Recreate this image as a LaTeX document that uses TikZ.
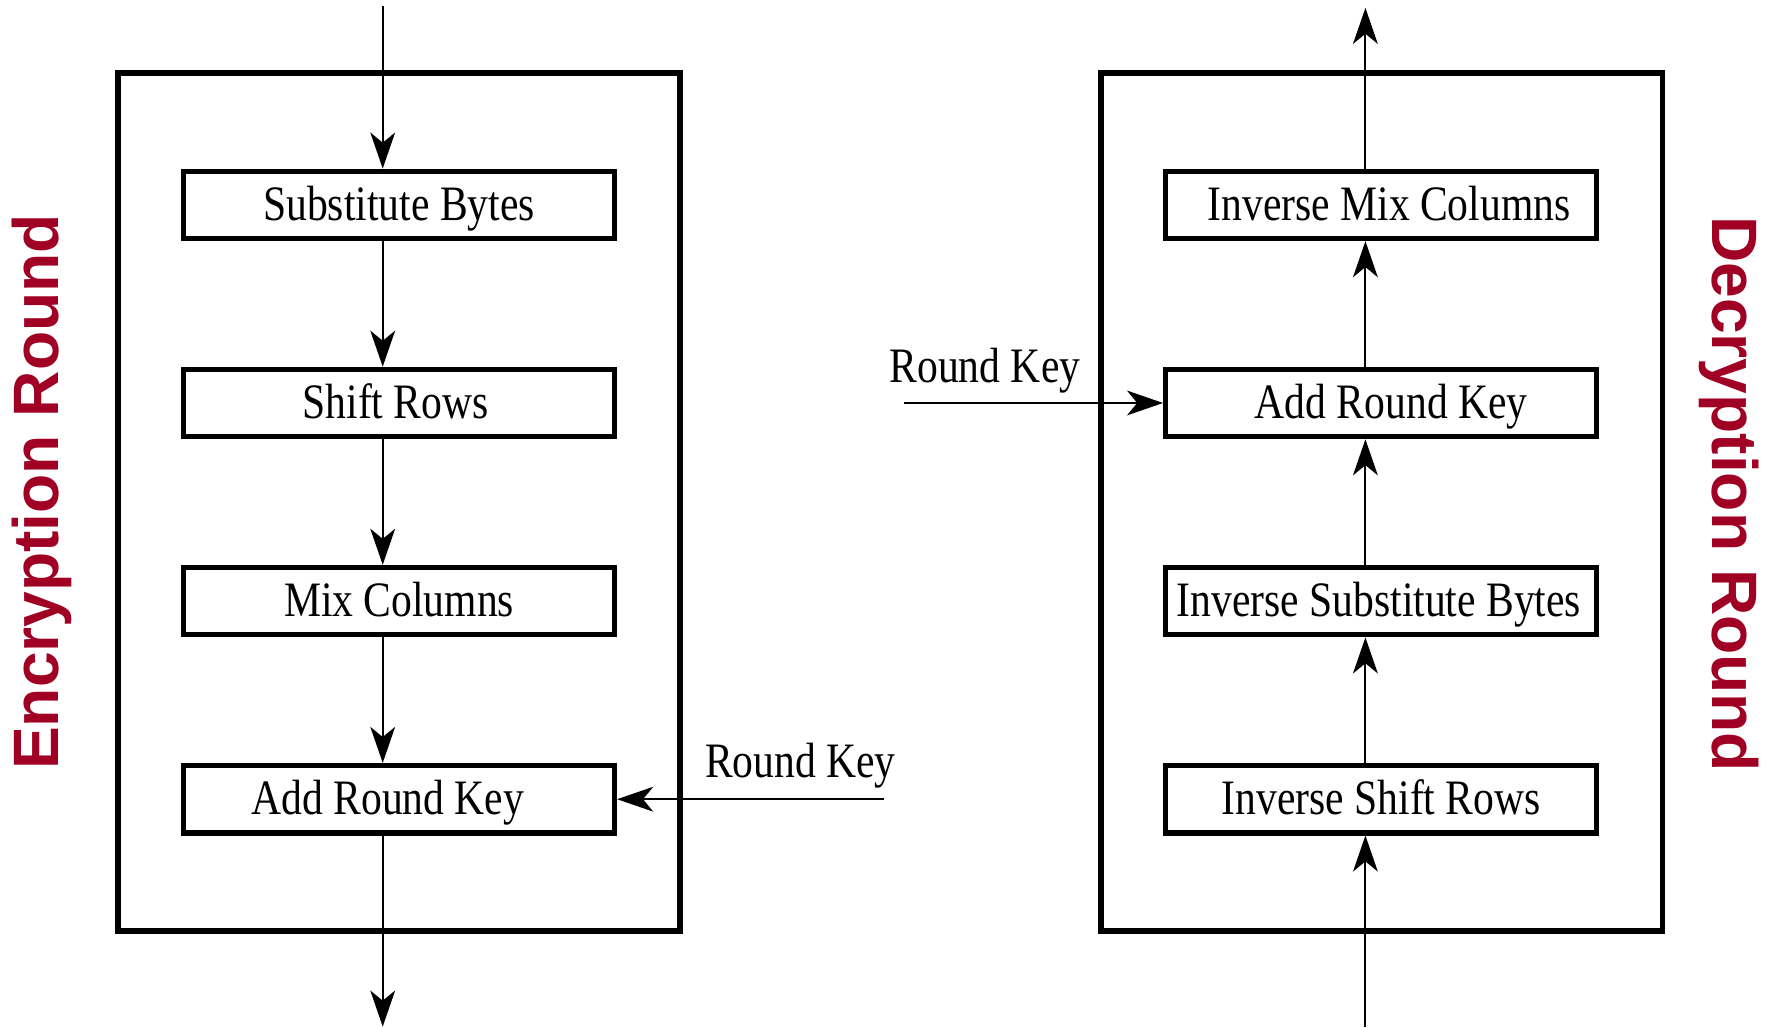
\documentclass[tikz,border=0pt]{standalone}
\usepackage{fontspec}
\setmainfont{Liberation Serif}
\newfontfamily\boxfont[FakeStretch=0.84]{Liberation Serif}
\newfontfamily\labfont{Liberation Sans}
\usetikzlibrary{arrows.meta}
\definecolor{roundred}{RGB}{160,0,36}
\begin{document}
\begin{tikzpicture}[x=1pt,y=-1pt,
  stagebox/.style={draw,line width=4.5pt,minimum width=383pt,minimum height=60pt,
    inner sep=0pt,text height=30pt,text depth=2pt,font=\boxfont\fontsize{44}{44}\selectfont},
  roundframe/.style={draw,line width=5pt},
  flow/.style={line width=1.8pt,-{Stealth[length=32pt,width=22pt,inset=9pt]}},
  keytext/.style={inner sep=0pt,font=\boxfont\fontsize{44}{44}\selectfont},
  sidetext/.style={inner sep=0pt,text=roundred,font=\labfont\bfseries\fontsize{57}{57}\selectfont}]
\useasboundingbox (0,0) rectangle (1568,913);

% ---- encryption round ----
\draw[roundframe] (105,65) rectangle (604,827);
\node[stagebox] (sb)  at (354.5,182) {Substitute Bytes};
\node[stagebox] (sr)  at (354.5,358) {\hspace*{-6pt}Shift Rows};
\node[stagebox] (mc)  at (354.5,534) {Mix Columns};
\node[stagebox] (ark) at (354.5,710) {\hspace*{-20pt}Add Round Key};
\coordinate (ein)  at (340,5);
\coordinate (eout) at (340,912);
\draw[flow] (ein) -- (ein |- sb.north);
\draw[flow] (ein |- sb.south) -- (ein |- sr.north);
\draw[flow] (ein |- sr.south) -- (ein |- mc.north);
\draw[flow] (ein |- mc.south) -- (ein |- ark.north);
\draw[flow] (ein |- ark.south) -- (eout);
\coordinate (ekey) at (785,710);
\draw[flow] (ekey) -- (ark.east);
\node[keytext] (ekeylab) at (711,680) {Round Key};
\node[sidetext,rotate=90] (enc) at (37,437) {Encryption Round};

% ---- decryption round ----
\draw[roundframe] (978,65) rectangle (1477,827);
\node[stagebox] (imc)  at (1227,182) {\hspace*{14pt}Inverse Mix Columns};
\node[stagebox] (dark) at (1227,358) {\hspace*{18pt}Add Round Key};
\node[stagebox] (isb)  at (1227,534) {\hspace*{-4pt}Inverse Substitute Bytes};
\node[stagebox] (isr)  at (1227,710) {Inverse Shift Rows};
\coordinate (din)  at (1213,912);
\coordinate (dout) at (1213,7);
\draw[flow] (din) -- (din |- isr.south);
\draw[flow] (din |- isr.north) -- (din |- isb.south);
\draw[flow] (din |- isb.north) -- (din |- dark.south);
\draw[flow] (din |- dark.north) -- (din |- imc.south);
\draw[flow] (din |- imc.north) -- (dout);
\coordinate (dkey) at (803,358);
\draw[flow] (dkey) -- (dark.west);
\node[keytext] (dkeylab) at (875,329) {Round Key};
\node[sidetext,rotate=-90] (dec) at (1536,439) {Decryption Round};
\end{tikzpicture}
\end{document}
